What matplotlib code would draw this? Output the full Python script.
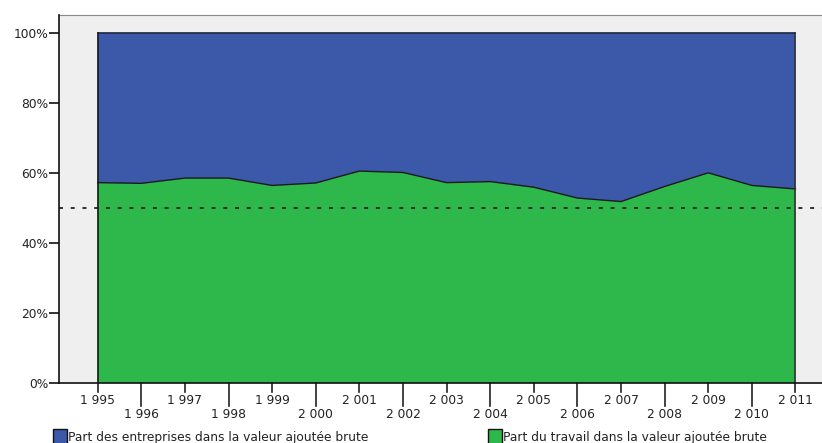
import matplotlib
matplotlib.use("Agg")
import matplotlib.pyplot as plt
from matplotlib.patches import Rectangle
import numpy as np

years = list(range(1995, 2012))
year_labels = ["1 995", "1 996", "1 997", "1 998", "1 999", "2 000", "2 001", "2 002",
               "2 003", "2 004", "2 005", "2 006", "2 007", "2 008", "2 009", "2 010", "2 011"]
labour_share = [57.2, 57.0, 58.5, 58.5, 56.4, 57.1, 60.5, 60.1, 57.2, 57.5,
                55.9, 52.8, 51.8, 56.1, 60.0, 56.4, 55.4]
business_share = [100 - v for v in labour_share]
y_ticks = [0, 20, 40, 60, 80, 100]
y_tick_labels = ["0%", "20%", "40%", "60%", "80%", "100%"]
reference_level = 50
series_names = ["Part des entreprises dans la valeur ajoutée brute",
                "Part du travail dans la valeur ajoutée brute"]

blue = "#3c58a9"
green = "#2eb84b"
bg = "#efefef"

plt.rcParams["font.family"] = ["DejaVu Sans"]
FS = 8.8

W, H = 822, 443
fig = plt.figure(figsize=(W / 100, H / 100), dpi=100)
ax_h = 383 - 14.7
ax = fig.add_axes([59.3 / W, 60 / H, (W - 59.3) / W + 0.002, ax_h / H])
ax.set_facecolor(bg)

x = np.array(years, dtype=float)
ax.fill_between(x, 0, labour_share, facecolor=green, edgecolor="none", zorder=2)
ax.fill_between(x, labour_share, 100, facecolor=blue, edgecolor="none", zorder=2)
# outlines of the stacked areas
ax.plot(x, labour_share, color="#1a1a1a", lw=1.0, zorder=3)
ax.plot(x, [100] * len(x), color="#222a44", lw=1.2, zorder=3)
ax.plot([x[0], x[0]], [0, 100], color="#1a1a1a", lw=1.2, zorder=3)
ax.plot([x[-1], x[-1]], [0, 100], color="#333333", lw=1.2, zorder=3)

ax.axhline(reference_level, color="#222222", lw=1.3, dashes=(2.2, 4.3), zorder=4)

px_per_year = (796 - 97.7) / 16
x_left = 1995 - (97.7 - 59.3) / px_per_year
ax.set_xlim(x_left, x_left + (W - 59.3) / px_per_year + 0.05)
ax.set_ylim(0, 100 + (32.7 - 14.7) / 3.5)

ax.spines["right"].set_visible(False)
ax.spines["top"].set_color("#8a8a8a")
ax.spines["left"].set_color("#111111")
ax.spines["bottom"].set_color("#111111")
ax.spines["left"].set_linewidth(1.2)
ax.spines["bottom"].set_linewidth(1.2)
ax.spines["left"].set_zorder(5)
ax.spines["bottom"].set_zorder(5)

ax.set_yticks(y_ticks)
ax.set_yticklabels(y_tick_labels, fontsize=FS, color="#222222")
ax.tick_params(axis="y", length=7, width=1.2, color="#111111", pad=1)

# x ticks: alternating short/long ticks with two label rows
ax.set_xticks(years)
ax.set_xticklabels([])
ax.tick_params(axis="x", length=0)
trans = ax.get_xaxis_transform()
for i, (yr, lab) in enumerate(zip(years, year_labels)):
    long_tick = i % 2 == 1
    tick_len = (23 if long_tick else 9) / ax_h
    ax.plot([yr, yr], [0, -tick_len], transform=trans, color="#222222",
            lw=1.2, clip_on=False, zorder=5)
    ypos = -((415 if long_tick else 400.7) - 383) / ax_h
    ax.text(yr, ypos, lab, transform=trans, ha="center", va="center",
            fontsize=FS, color="#222222")

# legend
for (x0, col, name) in [(53, blue, series_names[0]), (488, green, series_names[1])]:
    fig.patches.append(Rectangle((x0 / W, 1 - 444 / H), 14 / W, 15 / H,
                                 transform=fig.transFigure, facecolor=col,
                                 edgecolor="#111111", lw=1.0))
    fig.text((x0 + 15) / W, 1 - 438 / H, name, ha="left", va="center",
             fontsize=FS, color="#222222")

fig.savefig("out.png", dpi=100)
